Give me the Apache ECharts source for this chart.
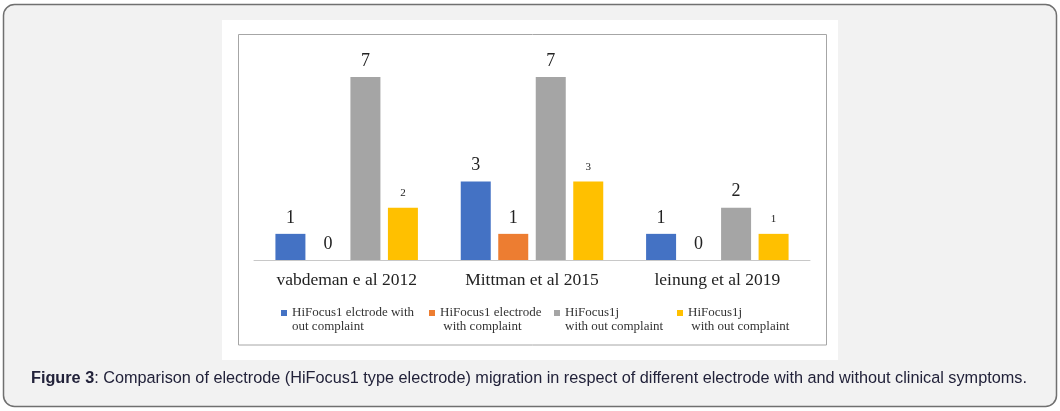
<!DOCTYPE html>
<html>
<head>
<meta charset="utf-8">
<script src="https://cdn.jsdelivr.net/npm/echarts@6/dist/echarts.min.js"></script>
<style>
html, body { margin: 0; padding: 0; background: #fff; }
</style>
</head>
<body>
<div id="ch" style="width: 1060px; height: 411px;"></div>

<script>
// data
var studies = ['vabdeman e al 2012', 'Mittman et al 2015', 'leinung et al 2019']
var seriesNames = [
    'HiFocus1 elctrode with\nout complaint',
    'HiFocus1 electrode\n with complaint',
    'HiFocus1j\nwith out complaint',
    'HiFocus1j\n with out complaint'
]
var hf1NoComplaint = [1, 3, 1]
var hf1Complaint = [0, 1, 0]
var hf1jNoComplaint = [7, 7, 2]
var hf1jNoComplaint2 = [2, 3, 1]

var colors = ['#4472C4', '#ED7D31', '#A5A5A5', '#FFC000']
var values = [hf1NoComplaint, hf1Complaint, hf1jNoComplaint, hf1jNoComplaint2]
var labelSizes = [18, 18, 18, 11]
var legendLeft = [281, 429, 554, 677]

var serif = '"Liberation Serif", "Times New Roman", serif'

// square at the top of a taller icon box, so it sits beside the first text line
var legendIcon = 'path://M0,0h6v6h-6z M0,20h0.01v0.01h-0.01z'

var chartInst = echarts.init(document.getElementById('ch'))

var series = values.map(function(arr, i) {
    return {
        name: seriesNames[i],
        type: 'bar',
        data: arr,
        barWidth: 30,
        barGap: '25%',
        itemStyle: { color: colors[i] },
        label: {
            show: true,
            position: 'top',
            distance: i === 3 ? 9 : 7,
            color: '#222',
            fontFamily: serif,
            fontSize: labelSizes[i]
        }
    }
})

var legends = seriesNames.map(function(n, i) {
    return {
        data: [n],
        left: legendLeft[i],
        top: 306,
        padding: 0,
        itemWidth: 6,
        itemHeight: 20,
        icon: legendIcon,
        selectedMode: false,
        textStyle: {
            fontFamily: serif,
            fontSize: 13,
            lineHeight: 14,
            color: '#333'
        }
    }
})

var option = {
    animation: false,
    color: colors,
    graphic: [
        {
            type: 'rect', z: -10,
            shape: { x: 3.5, y: 4.5, width: 1053, height: 402, r: 11 },
            style: { fill: '#f2f2f2', stroke: '#707070', lineWidth: 1.5 }
        },
        {
            type: 'rect', z: -9,
            shape: { x: 222, y: 20, width: 616, height: 340 },
            style: { fill: '#fff' }
        },
        {
            type: 'rect', z: -8,
            shape: { x: 238.5, y: 34.5, width: 588, height: 310.5 },
            style: { fill: '#fff', stroke: '#a6a6a6', lineWidth: 1 }
        },
        {
            type: 'text', z: 10,
            x: 31, y: 379,
            style: {
                text: '{b|Figure 3}: Comparison of electrode (HiFocus1 type electrode) migration in respect of different electrode with and without clinical symptoms.',
                fontFamily: '"Liberation Sans", Arial, sans-serif',
                fontSize: 16.25,
                fill: '#22223a',
                verticalAlign: 'middle',
                rich: {
                    b: {
                        fontFamily: '"Liberation Sans", Arial, sans-serif',
                        fontSize: 16.25,
                        fontWeight: 'bold',
                        fill: '#22223a'
                    }
                }
            }
        }
    ],
    legend: legends,
    grid: {
        left: 254,
        right: 250,
        top: 77,
        bottom: 151,
        containLabel: false
    },
    xAxis: {
        type: 'category',
        data: studies,
        axisLine: { lineStyle: { color: '#c8c8c8', width: 1 } },
        axisTick: { show: false },
        axisLabel: {
            margin: 11,
            fontFamily: serif,
            fontSize: 17.5,
            color: '#222'
        }
    },
    yAxis: {
        type: 'value',
        min: 0,
        max: 7,
        show: false,
        splitLine: { show: false }
    },
    series: series
}
chartInst.setOption(option)
</script>
</body>
</html>
